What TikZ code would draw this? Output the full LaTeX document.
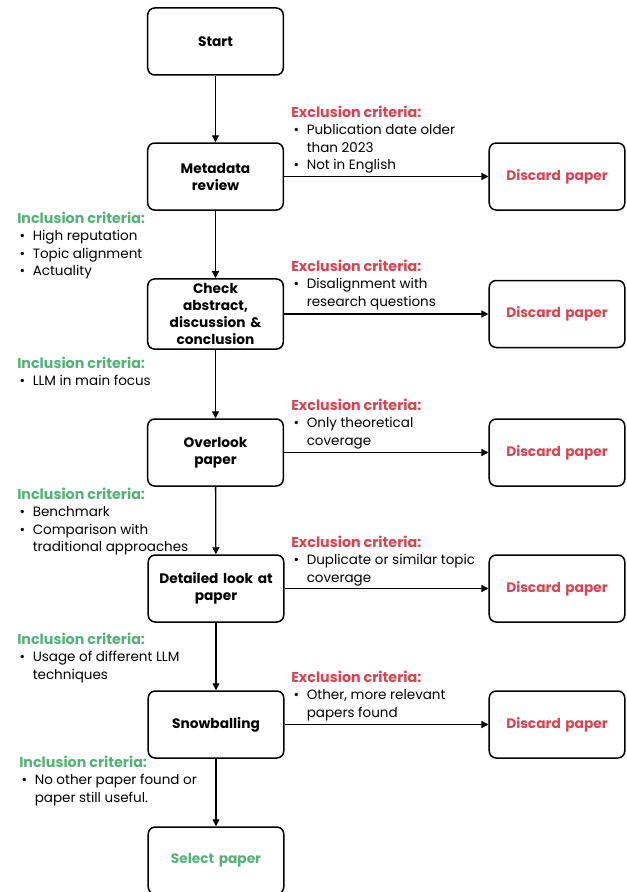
\documentclass[tikz,border=0pt]{standalone}
\usepackage{fontspec}
\setmainfont{Poppins}
\usetikzlibrary{arrows.meta}
\definecolor{excl}{RGB}{217,68,82}
\definecolor{incl}{RGB}{84,178,120}
\newcommand{\bul}{\makebox[11.625pt][l]{\hspace{1.8pt}\textbullet}}
\newcommand{\ind}{\hspace{11.625pt}}
\newcommand{\ttl}[2]{\textcolor{#1}{\fontsize{10.7pt}{13.125pt}\selectfont\bfseries #2}}
\tikzset{
  x=0.75pt,y=-0.75pt,
  stepbox/.style={draw, line width=1.125pt, rounded corners=5.25pt, minimum width=101.25pt, minimum height=50.25pt, align=center, font=\fontsize{10.3pt}{12.75pt}\selectfont\bfseries, text width=95pt},
  discard/.style={stepbox, text=excl},
  crit/.style={anchor=north west, align=left, inner sep=0pt, font=\fontsize{10.125pt}{13.125pt}\selectfont},
  flow/.style={line width=0.975pt, -{Triangle[length=5.25pt,width=5.25pt]}},
}
\begin{document}
\begin{tikzpicture}
\useasboundingbox[fill=white] (0,0) rectangle (626,892);
% main column
\node[stepbox] (start) at (215.5,41.5) {Start};
\node[stepbox] (meta) at (215.5,176.5) {Metadata\\review};
\node[stepbox] (abs) at (215.5,314) {Check\\abstract,\\discussion \&\\conclusion};
\node[stepbox] (over) at (215.5,452.5) {Overlook\\paper};
\node[stepbox] (det) at (216,588.5) {Detailed look at\\paper};
\node[stepbox] (snow) at (216,724.5) {Snowballing};
\node[stepbox, text=incl] (sel) at (216,860.5) {Select paper};
% discard column
\node[discard] (d1) at (557,176.5) {Discard paper};
\node[discard] (d2) at (557,314) {Discard paper};
\node[discard] (d3) at (557,452.5) {Discard paper};
\node[discard] (d4) at (557,588.5) {Discard paper};
\node[discard] (d5) at (557,724.5) {Discard paper};
% arrows
\draw[flow] (start) -- (meta);
\draw[flow] (meta) -- (abs);
\draw[flow] (abs) -- (over);
\draw[flow] (over) -- (det);
\draw[flow] (det) -- (snow);
\draw[flow] (snow) -- (sel);
\draw[flow] (meta) -- (d1);
\draw[flow] (abs) -- (d2);
\draw[flow] (over) -- (d3);
\draw[flow] (det) -- (d4);
\draw[flow] (snow) -- (d5);
% exclusion criteria
\node[crit] (e1) at (291,105.5) {\ttl{excl}{Exclusion criteria:}\\\bul Publication date older\\\ind than 2023\\\bul Not in English};
\node[crit] (e2) at (291,259.5) {\ttl{excl}{Exclusion criteria:}\\\bul Disalignment with\\\ind research questions};
\node[crit] (e3) at (291,398.5) {\ttl{excl}{Exclusion criteria:}\\\bul Only theoretical\\\ind coverage};
\node[crit] (e4) at (291,535.5) {\ttl{excl}{Exclusion criteria:}\\\bul Duplicate or similar topic\\\ind coverage};
\node[crit] (e5) at (291,670.5) {\ttl{excl}{Exclusion criteria:}\\\bul Other, more relevant\\\ind papers found};
% inclusion criteria
\node[crit] (i1) at (17,211.5) {\ttl{incl}{Inclusion criteria:}\\\bul High reputation\\\bul Topic alignment\\\bul Actuality};
\node[crit] (i2) at (17,356.5) {\ttl{incl}{Inclusion criteria:}\\\bul LLM in main focus};
\node[crit] (i3) at (17,487.5) {\ttl{incl}{Inclusion criteria:}\\\bul Benchmark\\\bul Comparison with\\\ind traditional approaches};
\node[crit] (i4) at (17,632.5) {\ttl{incl}{Inclusion criteria:}\\\bul Usage of different LLM\\\ind techniques};
\node[crit] (i5) at (19,755.5) {\ttl{incl}{Inclusion criteria:}\\\bul No other paper found or\\\ind paper still useful.};
\end{tikzpicture}
\end{document}
